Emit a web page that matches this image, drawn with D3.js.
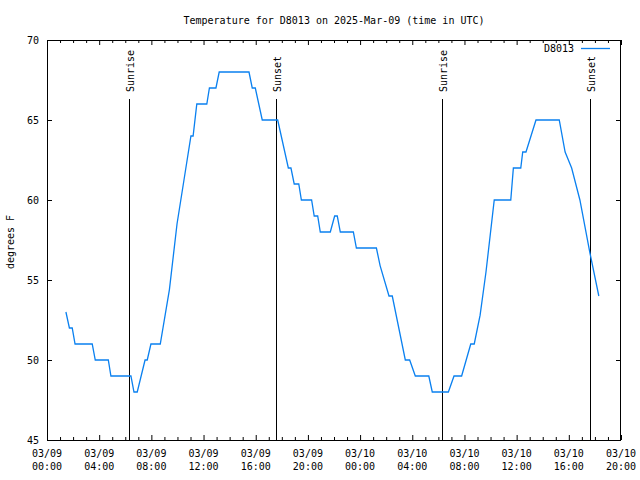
<!DOCTYPE html>
<html><head><meta charset="utf-8">
<script src="https://cdn.jsdelivr.net/npm/d3@7"></script>
<style>body{margin:0;background:#fff}text{font-family:"DejaVu Sans Mono",monospace;font-size:10px;fill:#000}</style>
</head><body>
<script>
const title = "Temperature for D8013 on 2025-Mar-09 (time in UTC)";
const seriesName = "D8013";
const yLabel = "degrees F";
const times = [
"2025-03-09 01:27","2025-03-09 01:43","2025-03-09 01:56","2025-03-09 02:09","2025-03-09 03:28",
"2025-03-09 03:42","2025-03-09 04:42","2025-03-09 04:54","2025-03-09 06:26","2025-03-09 06:40",
"2025-03-09 06:55","2025-03-09 07:31","2025-03-09 07:41","2025-03-09 07:58","2025-03-09 08:41",
"2025-03-09 09:23","2025-03-09 09:58","2025-03-09 10:30","2025-03-09 11:02","2025-03-09 11:12",
"2025-03-09 11:29","2025-03-09 12:15","2025-03-09 12:27","2025-03-09 12:57","2025-03-09 13:12",
"2025-03-09 15:29","2025-03-09 15:44","2025-03-09 15:58","2025-03-09 16:30","2025-03-09 17:41",
"2025-03-09 18:30","2025-03-09 18:42","2025-03-09 18:57","2025-03-09 19:18","2025-03-09 19:30",
"2025-03-09 20:17","2025-03-09 20:29","2025-03-09 20:45","2025-03-09 20:57","2025-03-09 21:43",
"2025-03-09 22:03","2025-03-09 22:15","2025-03-09 22:29","2025-03-09 23:29","2025-03-09 23:43",
"2025-03-10 01:15","2025-03-10 01:32","2025-03-10 02:13","2025-03-10 02:28","2025-03-10 03:28",
"2025-03-10 03:48","2025-03-10 04:14","2025-03-10 05:16","2025-03-10 05:32","2025-03-10 06:46",
"2025-03-10 07:12","2025-03-10 07:47","2025-03-10 08:29","2025-03-10 08:45","2025-03-10 09:12",
"2025-03-10 09:39","2025-03-10 10:17","2025-03-10 11:33","2025-03-10 11:45","2025-03-10 12:19",
"2025-03-10 12:28","2025-03-10 12:43","2025-03-10 13:29","2025-03-10 15:16","2025-03-10 15:43",
"2025-03-10 16:13","2025-03-10 16:51","2025-03-10 17:37","2025-03-10 18:18"];
const temps = [
53,52,52,51,51, 50,50,49,49,48, 48,50,50,51,51,
54.4,58.5,61.25,64,64, 66,66,67,67,68, 68,67,67,65,65,
62,62,61,61,60, 60,59,59,58,58, 59,59,58,58,57,
57,55.9,54,54,50, 50,49,49,48,48, 49,49,51,51,52.8,
55.5,60,60,62,62, 63,63,65,65,63, 62,60,56.7,54];
const sunEvents = ["2025-03-09 06:19","2025-03-09 17:33","2025-03-10 06:18","2025-03-10 17:39"];
const sunLabels = ["Sunrise","Sunset","Sunrise","Sunset"];
const xDomain = ["2025-03-09 00:00","2025-03-10 20:00"];
const yTicks = [45,50,55,60,65,70];

const parse = d3.utcParse("%Y-%m-%d %H:%M");
const W=640,H=480, L=47,R=621,T=40,B=440;
const svg = d3.select("body").append("svg").attr("width",W).attr("height",H);
const x = d3.scaleUtc().domain(xDomain.map(parse)).range([L,R]);
const y = d3.scaleLinear().domain([45,70]).range([B,T]);
const data = times.map((t,i)=>({t:parse(t),v:temps[i]}));

const hourly = d3.utcHour.range(x.domain()[0], d3.utcHour.offset(x.domain()[1],1));
const isMajor = d=>d.getUTCHours()%4===0;

function styleAxis(g){g.select(".domain").remove();g.selectAll("line").attr("stroke","#000");g.selectAll("text").remove();}
svg.append("g").attr("transform",`translate(0,${B})`)
 .call(d3.axisBottom(x).tickValues(hourly).tickSizeOuter(0)).call(styleAxis)
 .selectAll(".tick line").attr("y2",d=>isMajor(d)?-5:-3);
svg.append("g").attr("transform",`translate(0,${T})`)
 .call(d3.axisTop(x).tickValues(hourly).tickSizeOuter(0)).call(styleAxis)
 .selectAll(".tick line").attr("y2",d=>isMajor(d)?5:3);
svg.append("g").attr("transform",`translate(${L},0)`)
 .call(d3.axisLeft(y).tickValues(yTicks).tickSize(-5).tickSizeOuter(0)).call(styleAxis);
svg.append("g").attr("transform",`translate(${R},0)`)
 .call(d3.axisRight(y).tickValues(yTicks).tickSize(-5).tickSizeOuter(0)).call(styleAxis);

svg.selectAll(".ylab").data(yTicks).enter().append("text")
 .attr("x",39).attr("y",d=>y(d)+4).attr("text-anchor","end").text(d=>d);
const majors = hourly.filter(isMajor);
const f1=d3.utcFormat("%m/%d"), f2=d3.utcFormat("%H:%M");
svg.selectAll(".xl1").data(majors).enter().append("text")
 .attr("x",d=>x(d)).attr("y",457).attr("text-anchor","middle").text(f1);
svg.selectAll(".xl2").data(majors).enter().append("text")
 .attr("x",d=>x(d)).attr("y",470).attr("text-anchor","middle").text(f2);

// sun lines
sunEvents.forEach((s,i)=>{
  const sx = Math.round(x(parse(s)))+0.5;
  svg.append("line").attr("x1",sx).attr("x2",sx).attr("y1",99).attr("y2",B).attr("stroke","#000");
  svg.append("text").attr("transform",`translate(${sx+4},92) rotate(-90)`).attr("text-anchor","start").text(sunLabels[i]);
});

svg.append("path").datum(data)
 .attr("d",d3.line().x(d=>x(d.t)).y(d=>y(d.v)))
 .attr("fill","none").attr("stroke","#0a80f0").attr("stroke-width",1.3);

svg.append("rect").attr("x",L+0.5).attr("y",T+0.5).attr("width",R-L-1).attr("height",B-T).attr("fill","none").attr("stroke","#000");

svg.append("text").attr("x",(L+R)/2).attr("y",24).attr("text-anchor","middle").text(title);
svg.append("text").attr("transform","translate(14,242) rotate(-90)").attr("text-anchor","middle").text(yLabel);
svg.append("text").attr("x",574).attr("y",52).attr("text-anchor","end").text(seriesName);
svg.append("line").attr("x1",581).attr("x2",610).attr("y1",48.5).attr("y2",48.5).attr("stroke","#0a80f0").attr("stroke-width",1.3);
</script>
</body></html>
